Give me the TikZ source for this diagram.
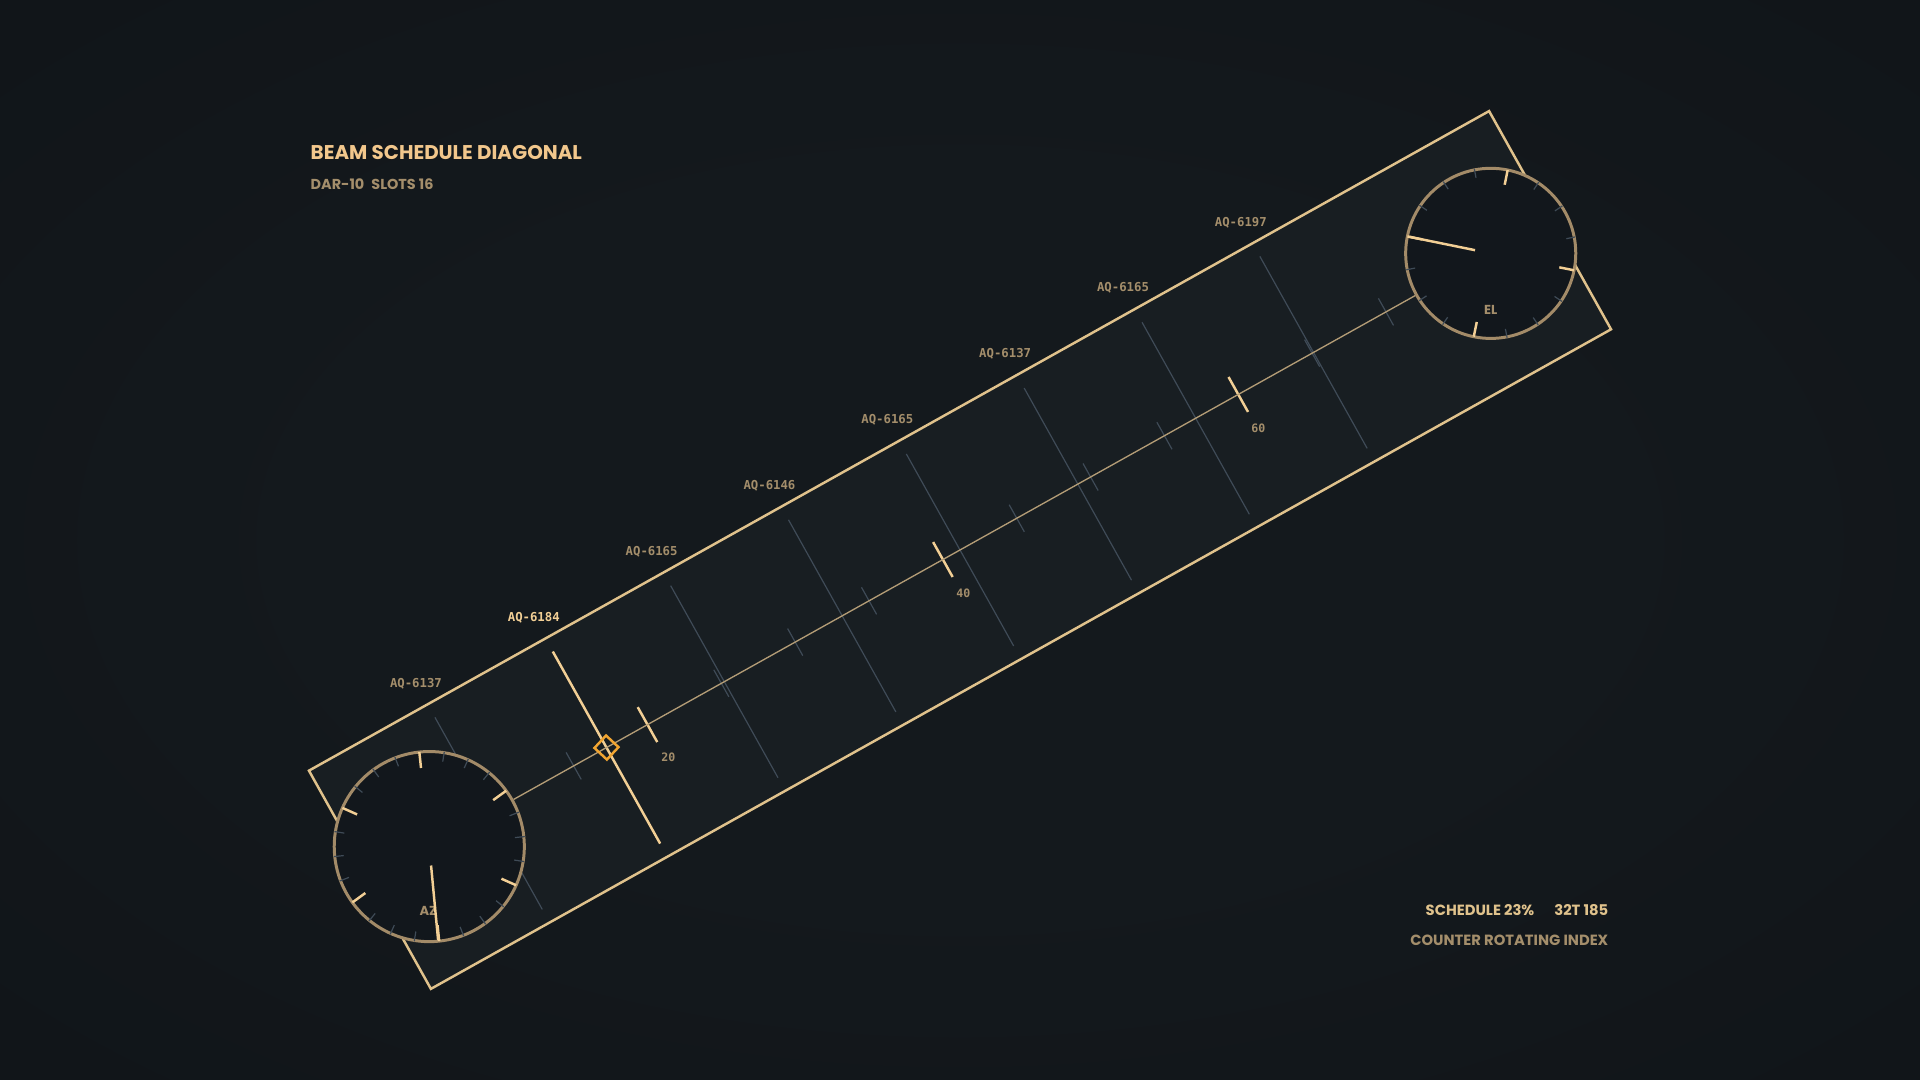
\documentclass[tikz,border=0pt]{standalone}
\usepackage{fontspec}
\usepackage{tikz}
\usetikzlibrary{calc,positioning}
\newfontfamily\uifont{Poppins}
\newfontfamily\codefont{DejaVu Sans Mono}
\definecolor{bgin}{HTML}{14191D}
\definecolor{bgmid}{HTML}{0F1317}
\definecolor{bgout}{HTML}{0A0D11}
\definecolor{panel}{HTML}{181E22}
\definecolor{dialfill}{HTML}{12171C}
\definecolor{beamtan}{HTML}{E0C28C}
\definecolor{brass}{HTML}{A38B68}
\definecolor{axisgold}{HTML}{B39C76}
\definecolor{hot}{HTML}{F2CF95}
\definecolor{slate}{HTML}{3F4B57}
\definecolor{amber}{HTML}{F2A531}
\definecolor{dimtext}{HTML}{A48E6B}
\definecolor{headtext}{HTML}{F2C78C}
\pgfdeclareradialshading{vignette}{\pgfpoint{0bp}{0bp}}{color(0bp)=(bgin); color(16bp)=(bgin); color(44bp)=(bgmid); color(72bp)=(bgout)}
\tikzset{
	beam/.style={draw=beamtan,fill=panel,line width=.7pt,line join=miter},
	slot/.style={draw=slate,line width=.34pt},
	hotslot/.style={draw=hot,line width=.7pt},
	minor/.style={draw=slate,line width=.34pt},
	major/.style={draw=hot,line width=.7pt},
	axisline/.style={draw=axisgold,line width=.38pt},
	dial/.style={circle,draw=brass,fill=dialfill,line width=.85pt,inner sep=0pt},
	dialmark/.style={draw=hot,line width=.7pt},
	dialtick/.style={draw=slate,line width=.34pt},
	needle/.style={draw=hot,line width=.7pt},
	marker/.style={draw=amber,line width=.7pt,inner sep=0pt,rotate=47,minimum size=.17cm},
	tag/.style={inner sep=0pt,text=dimtext,font=\codefont\bfseries\fontsize{3.5}{4}\selectfont},
	num/.style={inner sep=0pt,text=dimtext,font=\codefont\bfseries\fontsize{3.3}{4}\selectfont},
	dialtag/.style={inner sep=0pt,text=dimtext,font=\uifont\bfseries\fontsize{3.7}{4}\selectfont},
	head/.style={inner sep=0pt,anchor=west,text=headtext,font=\uifont\bfseries\fontsize{5.65}{6}\selectfont},
	info/.style={inner sep=0pt,font=\uifont\bfseries\fontsize{4.2}{5}\selectfont}
}
\begin{document}
\begin{tikzpicture}[x=0.01cm,y=0.01cm]
	\shade[shading=vignette] (0,0) rectangle (1920,1080);
	\useasboundingbox (0,0) rectangle (1920,1080);
	\begin{scope}[shift={(960,530)},rotate=29.2]
		\draw[beam] (-676,-125) rectangle (676,125);
		\draw[slot] (-540,-110) to (-540,110);
		\draw[hotslot] (-405,-110) to (-405,110);
		\draw[slot] (-270,-110) to (-270,110);
		\draw[slot] (-135,-110) to (-135,110);
		\draw[slot] (0,-110) to (0,110);
		\draw[slot] (135,-110) to (135,110);
		\draw[slot] (270,-110) to (270,110);
		\draw[slot] (405,-110) to (405,110);
		\foreach \t in {5,10,15,25,30,35,45,50,55,65,70,75}
			\draw[minor] (-696.4+16.92*\t,-15.5) to (-696.4+16.92*\t,15.5);
		\draw[major] (-358,-20) to (-358,20);
		\draw[major] (-19.6,-20) to (-19.6,20);
		\draw[major] (318.8,-20) to (318.8,20);
		\node[num] (n20) at (-356,-39) {20};
		\node[num] (n40) at (-18,-39) {40};
		\node[num] (n60) at (320,-39) {60};
		\node[tag] (l0) at (-540,149) {AQ-6137};
		\node[tag,text=hot] (l1) at (-405,149) {AQ-6184};
		\node[tag] (l2) at (-270,149) {AQ-6165};
		\node[tag] (l3) at (-135,149) {AQ-6146};
		\node[tag] (l4) at (0,149) {AQ-6165};
		\node[tag] (l5) at (135,149) {AQ-6137};
		\node[tag] (l6) at (270,149) {AQ-6165};
		\node[tag] (l7) at (405,149) {AQ-6197};
		\node[dial,minimum size=1.9cm] (az) at (-608,0) {};
		\node[dial,minimum size=1.7cm] (el) at (608,0) {};
		\coordinate (pin) at (-405,0);
	\end{scope}
	\draw[axisline] (az) to (el);
	\node[marker] (mk) at (pin) {};
	\foreach \b in {36,96,...,336}
		\foreach \o in {15,30,45}
			\draw[dialtick] ($(az)+(\b+\o:86)$) to ($(az)+(\b+\o:96)$);
	\foreach \b in {36,96,...,336}
		\draw[dialmark] ($(az)+(\b:79)$) to ($(az)+(\b:95)$);
	\foreach \b in {78.5,168.5,258.5,348.5}
		\foreach \o in {22.5,45,67.5}
			\draw[dialtick] ($(el)+(\b+\o:77)$) to ($(el)+(\b+\o:86)$);
	\foreach \b in {78.5,168.5,258.5,348.5}
		\draw[dialmark] ($(el)+(\b:70)$) to ($(el)+(\b:85)$);
	\node[dialtag] (azl) at ($(az)+(-1,-64)$) {AZ};
	\node[dialtag] (ell) at ($(el)+(0,-57)$) {EL};
	\draw[needle] ($(az)+(-84.6:19)$) to ($(az)+(-84.6:94)$);
	\draw[needle] ($(el)+(168.5:16)$) to ($(el)+(168.5:83)$);
	\node[head] (title) at (310,927) {BEAM SCHEDULE DIAGONAL};
	\node[head,text=dimtext,font=\uifont\bfseries\fontsize{4.1}{5}\selectfont] (sub) at (310,896) {DAR-10\hspace{0.07cm}SLOTS 16};
	\node[info,anchor=east,text=beamtan] (state) at (1609,170) {SCHEDULE 23\%\hspace{0.2cm}32T 185};
	\node[info,anchor=east,text=dimtext] (mode) at (1609,140) {COUNTER ROTATING INDEX};
\end{tikzpicture}
\end{document}
